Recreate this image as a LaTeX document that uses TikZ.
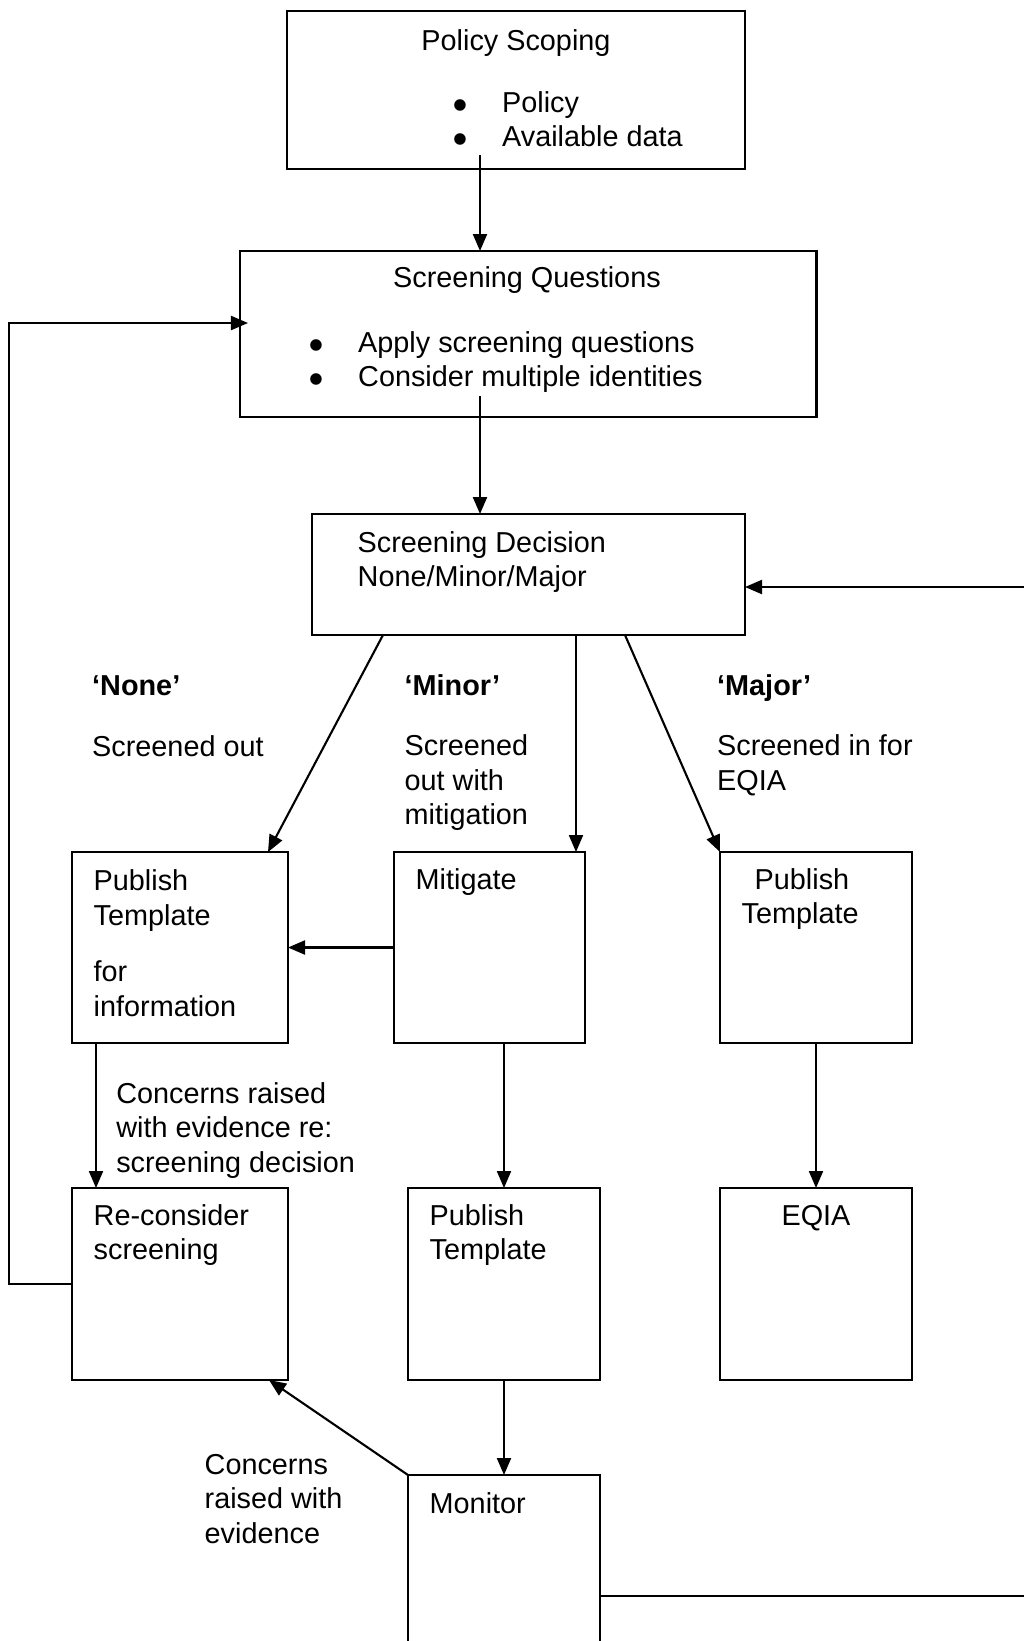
\documentclass[tikz,border=0pt]{standalone}
\usepackage{fontspec}
\setmainfont{Liberation Sans}
\usetikzlibrary{arrows.meta}
\newcommand{\bitem}{\makebox[4.95mm][l]{$\bullet$}}
\tikzset{
  box/.style={draw,line width=0.7pt,inner sep=0pt,outer sep=0pt,anchor=north west},
  txt/.style={align=left,inner sep=0pt,anchor=base west},
  arr/.style={-{Triangle[length=1.7mm,width=1.4mm]},line width=0.6pt}
}
\begin{document}
\begin{tikzpicture}[every node/.style={font=\fontsize{8.2}{9.8}\selectfont}]
\useasboundingbox (0,0) rectangle (10.24,-16.41);
% (multi-line texts are placed by the baseline of their last line)
\node[box,minimum width=4.58cm,minimum height=1.58cm] (scope) at (2.87,-0.11) {};
\node[txt,anchor=base] (scopeTitle) at (5.16,-0.50) {Policy Scoping};
\node[txt] (scopeList) at (4.52,-1.465) {\bitem Policy\\\bitem Available data};
%
\node[box,minimum width=5.765cm,minimum height=1.66cm] (questions) at (2.40,-2.51) {};
\node[txt,anchor=base] (questionsTitle) at (5.27,-2.87) {Screening Questions};
\node[txt] (questionsList) at (3.08,-3.865) {\bitem Apply screening questions\\\bitem Consider multiple identities};
%
\node[box,minimum width=4.33cm,minimum height=1.21cm] (decision) at (3.12,-5.14) {};
\node[txt] (decisionText) at (3.57,-5.865) {Screening Decision\\None/Minor/Major};
%
\node[txt] (noneHead) at (0.915,-6.95) {\bfseries `None'};
\node[txt] (noneText) at (0.915,-7.56) {Screened out};
\node[txt] (minorHead) at (4.04,-6.95) {\bfseries `Minor'};
\node[txt] (minorText) at (4.04,-8.245) {Screened\\out with\\mitigation};
\node[txt] (majorHead) at (7.165,-6.95) {\bfseries `Major'};
\node[txt] (majorText) at (7.165,-7.90) {Screened in for\\EQIA};
%
\node[box,minimum width=2.16cm,minimum height=1.91cm] (pubinfo) at (0.72,-8.52) {};
\node[txt] (pubinfoText) at (0.93,-10.16) {Publish\\Template\\[2.2mm]for\\information};
\node[box,minimum width=1.91cm,minimum height=1.91cm] (mitigate) at (3.94,-8.52) {};
\node[txt] (mitigateText) at (4.15,-8.89) {Mitigate};
\node[box,minimum width=1.92cm,minimum height=1.91cm] (pubmajor) at (7.20,-8.52) {};
\node[txt] (pubmajorText) at (7.41,-9.235) {\hspace*{1.3mm}Publish\\Template};
%
\node[txt] (concernsA) at (1.156,-11.72) {Concerns raised\\with evidence re:\\screening decision};
%
\node[box,minimum width=2.16cm,minimum height=1.92cm] (reconsider) at (0.72,-11.88) {};
\node[txt] (reconsiderText) at (0.93,-12.595) {Re-consider\\screening};
\node[box,minimum width=1.92cm,minimum height=1.92cm] (pubminor) at (4.08,-11.88) {};
\node[txt] (pubminorText) at (4.29,-12.595) {Publish\\Template};
\node[box,minimum width=1.92cm,minimum height=1.92cm] (eqia) at (7.20,-11.88) {};
\node[txt,anchor=base] (eqiaText) at (8.16,-12.25) {EQIA};
%
\node[box,minimum width=1.92cm,minimum height=2.4cm] (monitor) at (4.08,-14.75) {};
\node[txt] (monitorText) at (4.29,-15.13) {Monitor};
\node[txt] (concernsB) at (2.04,-15.43) {Concerns\\raised with\\evidence};
%
\coordinate (a1) at (4.80,-1.55);
\coordinate (a2) at (4.80,-3.96);
\coordinate (minorx) at (5.76,0);
\coordinate (concx) at (0.96,0);
\coordinate (leftx) at (0.09,0);
\coordinate (rightx) at (10.32,0);
\coordinate (monout) at ([yshift=-12.1mm]monitor.north east);
%
\draw[arr] (a1) -- (a1 |- questions.north);
\draw[arr] (a2) -- (a2 |- decision.north);
\draw[arr] ([xshift=7.1mm]decision.south west) -- ([xshift=-2mm]pubinfo.north east);
\draw[arr] (minorx |- decision.south) -- (minorx |- mitigate.north);
\draw[arr] ([xshift=-12mm]decision.south east) -- (pubmajor.north west);
\draw[arr] (mitigate.west) -- (mitigate.west -| pubinfo.east);
\draw[arr] (concx |- pubinfo.south) -- (concx |- reconsider.north);
\draw[arr] (pubminor.north |- mitigate.south) -- (pubminor.north);
\draw[arr] (pubmajor.south) -- (eqia.north);
\draw[arr] (pubminor.south) -- (monitor.north);
\draw[arr] (monitor.north west) -- ([xshift=-1.9mm]reconsider.south east);
%
\draw[arr] (reconsider.west) -- (reconsider.west -| leftx) |- ([xshift=0.8mm,yshift=1.1mm]questions.west);
\draw[arr] (monout) -- (monout -| rightx) |- ([yshift=-1.25mm]decision.east);
\end{tikzpicture}
\end{document}
